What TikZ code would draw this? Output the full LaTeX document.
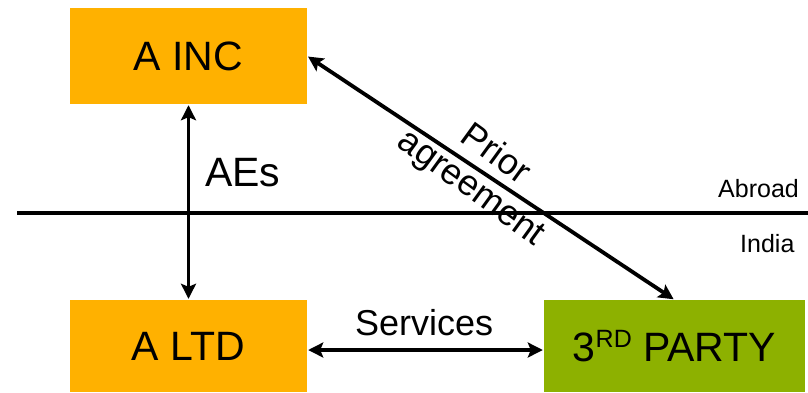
\documentclass[tikz,border=0pt]{standalone}
\usepackage{fontspec}
\setmainfont{Liberation Sans}
\usetikzlibrary{arrows.meta}
\definecolor{entorange}{HTML}{FFB100}
\definecolor{entgreen}{HTML}{8DB100}
\tikzset{
  entity/.style={inner sep=0pt, minimum height=94pt, text=black,
    font=\fontsize{41}{46}\selectfont},
  rel/.style={line width=3.8pt, {Stealth[length=15pt,width=15pt,inset=3pt]}-{Stealth[length=15pt,width=15pt,inset=3pt]}, shorten <=1pt, shorten >=1pt},
  bigtag/.style={inner sep=0pt, anchor=base west, font=\fontsize{41}{46}\selectfont},
  midtag/.style={inner sep=0pt, font=\fontsize{36}{41}\selectfont},
  smalltag/.style={inner sep=0pt, anchor=base west, font=\fontsize{25}{30}\selectfont}
}
\begin{document}
\begin{tikzpicture}[x=1pt, y=-1pt]
  \useasboundingbox (0,0) rectangle (808,392);

  % entities
  \node[entity, fill=entorange, minimum width=237pt, minimum height=96pt] (ainc) at (188.5,56) {A INC};
  \node[entity, fill=entorange, minimum width=237pt, minimum height=92pt] (altd) at (188.5,346) {A LTD};
  \node[entity, fill=entgreen, minimum width=261pt, minimum height=92pt] (party) at (674.5,346)
    {3\raisebox{0.36em}{\fontsize{25}{30}\selectfont RD} PARTY};

  % border between abroad and India
  \coordinate (borderL) at (17,213);
  \coordinate (borderR) at (808,213);
  \draw[line width=4.2pt] (borderL) -- (borderR);
  \node[smalltag] (abroad) at (718,197) {Abroad};
  \node[smalltag] (india) at (740,252) {India};

  % relationships
  \draw[rel] (ainc.south) -- (altd.north);
  \draw[rel] (ainc.east) -- (party.north);
  \draw[rel] ([yshift=-4pt]altd.east) -- ([yshift=-4pt]party.west);

  % labels
  \node[bigtag] (aes) at (205,186) {AEs};
  \node[midtag, anchor=base west] (services) at (355,335) {Services};
  \node[midtag, align=center, rotate=-36] (prior) at (483,172) {Prior\\agreement};
\end{tikzpicture}
\end{document}
